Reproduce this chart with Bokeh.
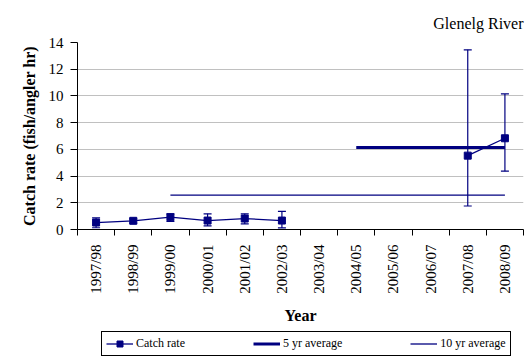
import math
from bokeh.plotting import figure
from bokeh.layouts import column
from bokeh.models import (ColumnDataSource, Whisker, TeeHead, FixedTicker, Legend,
                          LegendItem, Range1d)
from bokeh.embed import file_html
from bokeh.resources import INLINE

# ---- data ----
years = ["1997/98", "1998/99", "1999/00", "2000/01", "2001/02", "2002/03",
         "2003/04", "2004/05", "2005/06", "2006/07", "2007/08", "2008/09"]
catch_rate = [0.52, 0.65, 0.92, 0.67, 0.82, 0.67, None, None, None, None, 5.53, 6.83]
err_lower = [0.13, 0.47, 0.60, 0.27, 0.42, 0.12, None, None, None, None, 1.76, 4.37]
err_upper = [0.87, 0.80, 1.17, 1.17, 1.17, 1.36, None, None, None, None, 13.45, 10.15]
five_yr_avg = 6.13
five_yr_span = ["2004/05", "2008/09"]
ten_yr_avg = 2.58
ten_yr_span = ["1999/00", "2008/09"]
y_ticks = [0, 2, 4, 6, 8, 10, 12, 14]
title_text = "Glenelg River"
legend_labels = ["Catch rate", "5 yr average", "10 yr average"]

NAVY = "#000080"
FONT = "Liberation Serif"

pos = {y: i + 0.5 for i, y in enumerate(years)}
line_src = ColumnDataSource(dict(
    x=[pos[y] for y in years],
    y=[float("nan") if v is None else v for v in catch_rate]))
pts = [(pos[y], v, lo, hi) for y, v, lo, hi in zip(years, catch_rate, err_lower, err_upper) if v is not None]
pt_src = ColumnDataSource(dict(x=[p[0] for p in pts], y=[p[1] for p in pts],
                               lower=[p[2] for p in pts], upper=[p[3] for p in pts]))

p = figure(width=530, height=326, output_backend="svg", toolbar_location=None,
           x_range=Range1d(0, len(years)), y_range=Range1d(y_ticks[0], y_ticks[-1]),
           min_border_left=77, min_border_right=7, min_border_top=42, min_border_bottom=96)
p.outline_line_color = None
p.background_fill_color = "white"
p.border_fill_color = "white"

p.title.text = title_text
p.title.align = "right"
p.title.text_font = FONT
p.title.text_font_size = "16px"
p.title.text_font_style = "normal"
p.title.text_color = "black"
p.title.standoff = 21

# x axis: labels at category centres, boundary ticks as minor ticks
xt = FixedTicker(ticks=[pos[y] for y in years], minor_ticks=list(range(len(years) + 1)))
xa = p.xaxis[0]
xa.ticker = xt
xa.major_label_overrides = {pos[y]: y for y in years}
xa.major_tick_out = 0
xa.major_tick_in = 0
xa.minor_tick_out = 6
xa.minor_tick_in = 0
xa.minor_tick_line_color = "black"
xa.axis_line_color = "black"
xa.major_label_orientation = math.pi / 2
xa.major_label_standoff = 9
xa.major_label_text_font = FONT
xa.major_label_text_font_size = "15px"
xa.major_label_text_color = "black"
xa.axis_label = "Year"
xa.axis_label_text_font = FONT
xa.axis_label_text_font_size = "16px"
xa.axis_label_text_font_style = "bold"
xa.axis_label_text_color = "black"
xa.axis_label_standoff = 10

yt = FixedTicker(ticks=y_ticks)
ya = p.yaxis[0]
ya.ticker = yt
ya.major_tick_out = 7
ya.major_tick_in = 0
ya.minor_tick_out = 0
ya.minor_tick_in = 0
ya.axis_line_color = "black"
ya.major_tick_line_color = "black"
ya.major_label_standoff = 7
ya.major_label_text_font = FONT
ya.major_label_text_font_size = "15px"
ya.major_label_text_color = "black"
ya.axis_label = "Catch rate (fish/angler hr)"
ya.axis_label_text_font = FONT
ya.axis_label_text_font_size = "16px"
ya.axis_label_text_font_style = "bold"
ya.axis_label_text_color = "black"
ya.axis_label_standoff = 8

p.xgrid.visible = False
p.ygrid.ticker = yt
p.ygrid.grid_line_color = "#c0c0c0"
p.ygrid.grid_line_width = 1

p.line(x=[pos[s] for s in ten_yr_span], y=[ten_yr_avg] * 2, line_color=NAVY, line_width=1.3)
p.line(x=[pos[s] for s in five_yr_span], y=[five_yr_avg] * 2, line_color=NAVY, line_width=3)
p.line("x", "y", source=line_src, line_color=NAVY, line_width=1.3)

wh = Whisker(base="x", upper="upper", lower="lower", source=pt_src,
             line_color=NAVY, line_width=1.2,
             upper_head=TeeHead(size=8, line_color=NAVY, line_width=1.2),
             lower_head=TeeHead(size=8, line_color=NAVY, line_width=1.2))
p.add_layout(wh)
p.scatter("x", "y", source=pt_src, marker="square", size=7,
          fill_color=NAVY, line_color=NAVY)

# ---- legend strip below the chart (swatch renderers sit outside the visible range) ----
lf = figure(width=530, height=38, output_backend="svg", toolbar_location=None,
            x_range=Range1d(0, 1), y_range=Range1d(0, 1), min_border=0,
            x_axis_location=None, y_axis_location=None)
lf.grid.visible = False
lf.outline_line_color = None
lf.background_fill_color = "white"
lf.border_fill_color = "white"
off = dict(x=[-5], y=[-5])
l_cr = lf.line(line_color=NAVY, line_width=1.3, **off)
l_pt = lf.scatter(marker="square", fill_color=NAVY, line_color=NAVY, **off)
l_5 = lf.line(line_color=NAVY, line_width=3, **off)
l_10 = lf.line(line_color=NAVY, line_width=1.3, **off)

legend = Legend(items=[LegendItem(label=legend_labels[0], renderers=[l_cr, l_pt]),
                       LegendItem(label=legend_labels[1], renderers=[l_5]),
                       LegendItem(label=legend_labels[2], renderers=[l_10])],
                orientation="horizontal", location=(24, 8), margin=0,
                padding=4, spacing=68, glyph_width=27, glyph_height=15,
                label_standoff=3, label_height=12,
                label_text_font=FONT, label_text_font_size="12px", label_text_color="black",
                border_line_color="black", border_line_width=1, border_line_alpha=1,
                background_fill_color="white", background_fill_alpha=1)
lf.add_layout(legend)

open("out.html", "w").write(file_html(column(p, lf, spacing=0), INLINE))
